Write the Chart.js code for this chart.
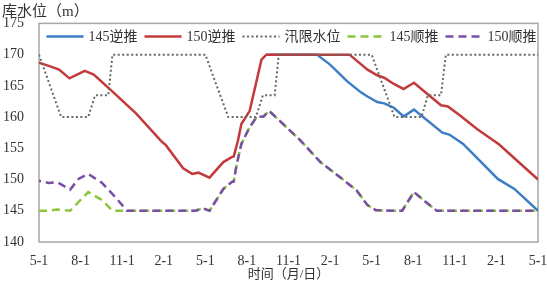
<!DOCTYPE html>
<html>
<head>
<meta charset="utf-8">
<script src="https://cdn.jsdelivr.net/npm/chart.js@4/dist/chart.umd.min.js"></script>
<style>
  body { margin: 0; background: #fff; }
  #wrap { width: 547px; height: 283px; }
</style>
</head>
<body>
<div id="wrap"><canvas id="chart" width="547" height="283"></canvas></div>
<script>
// 横轴：自首个 5-1 起的月数 (0..36)，每 3 个月一个刻度
const tickLabels = ['5-1', '8-1', '11-1', '2-1', '5-1', '8-1', '11-1', '2-1', '5-1', '8-1', '11-1', '2-1', '5-1'];

// 145逆推
const back145Months = [16.4, 20.05, 21.0, 22.2, 23.2, 23.7, 24.4, 24.9, 25.6, 26.3, 27.05, 29.1, 29.6, 30.6, 31.9, 33.1, 34.3, 36];
const back145Level  = [170, 170, 168.4, 165.8, 164.0, 163.3, 162.4, 162.2, 161.5, 160.1, 161.2, 157.5, 157.2, 155.7, 152.8, 150.1, 148.5, 145.0];

// 150逆推
const back150Months = [0, 0.7, 1.45, 2.2, 3.3, 3.95, 5.05, 7.0, 8.8, 9.15, 10.4, 11.05, 11.5, 12.3, 13.3, 13.9, 14.05, 14.35, 14.6, 15.2, 16.05, 16.4, 22.4, 23.7, 24.4, 24.9, 25.6, 26.3, 27.05, 29.0, 29.5, 30.4, 31.6, 33.2, 36];
const back150Level  = [168.7, 168.2, 167.6, 166.2, 167.4, 166.8, 164.6, 160.6, 156.2, 155.5, 151.8, 150.9, 151.1, 150.3, 152.8, 153.6, 153.7, 156.2, 158.9, 161.0, 169.2, 170, 170, 167.6, 166.7, 166.3, 165.3, 164.5, 165.5, 161.9, 161.7, 160.2, 158.1, 155.6, 150.0];

// 汛限水位
const floodMonths = [0, 1.6, 3.55, 4.05, 5.0, 5.3, 12.0, 13.65, 15.65, 16.15, 17.0, 17.3, 24.0, 25.65, 27.6, 28.05, 29.0, 29.35, 36];
const floodLevel  = [170, 160, 160, 163.5, 163.5, 170, 170, 160, 160, 163.5, 163.5, 170, 170, 160, 160, 163.5, 163.5, 170, 170];

// 145顺推
const fwd145Months = [0, 0.7, 1.3, 2.25, 3.55, 4.55, 5.3, 11.3, 11.8, 12.3, 13.3, 13.9, 14.05, 14.25, 14.6, 15.2, 15.7, 16.2, 16.6, 18.8, 20.3, 21.7, 22.9, 23.7, 24.3, 25.4, 26.2, 27.05, 27.9, 28.7, 36];
const fwd145Level  = [145, 145, 145.2, 145, 148.0, 146.7, 145, 145, 145.4, 145, 148.5, 149.6, 149.7, 152.3, 155.7, 158.4, 160.0, 160.1, 161.0, 156.4, 152.8, 150.4, 148.3, 145.9, 145.1, 145, 145, 148.0, 146.4, 145, 145];

// 150顺推
const fwd150Months = [0, 0.7, 1.3, 2.25, 2.85, 3.55, 4.55, 5.5, 6.35, 11.3, 11.8, 12.3, 13.3, 13.9, 14.05, 14.25, 14.6, 15.2, 15.7, 16.2, 16.6, 18.8, 20.3, 21.7, 22.9, 23.7, 24.3, 25.4, 26.2, 27.05, 27.9, 28.7, 36];
const fwd150Level  = [149.8, 149.45, 149.6, 148.4, 150.1, 150.9, 149.45, 147.2, 145, 145, 145.4, 145, 148.5, 149.6, 149.7, 152.3, 155.7, 158.4, 160.0, 160.1, 161.0, 156.4, 152.8, 150.4, 148.3, 145.9, 145.1, 145, 145, 148.0, 146.4, 145, 145];

const toPoints = (xs, ys) => xs.map((x, i) => ({ x: x, y: ys[i] }));

const FONT = "'Liberation Serif', 'Times New Roman', 'Noto Sans CJK SC', serif";
const TEXT = '#333333';

// 绘图区外框
const frame = {
  id: 'frame',
  beforeDatasetsDraw(chart) {
    const { ctx, chartArea: a } = chart;
    ctx.save();
    ctx.strokeStyle = '#a6a6a6';
    ctx.lineWidth = 1.5;
    ctx.strokeRect(a.left, a.top, a.right - a.left, a.bottom - a.top);
    ctx.restore();
  }
};

// 图例画在绘图区内顶部，单行
const insideLegend = {
  id: 'insideLegend',
  afterDatasetsDraw(chart) {
    const { ctx, chartArea: a } = chart;
    const sw = 37, gapText = 5, gapItem = 7;
    ctx.save();
    ctx.font = '14px ' + FONT;
    const items = chart.data.datasets.map(ds => ({ ds: ds, w: ctx.measureText(ds.label).width }));
    const total = items.reduce((s, it) => s + sw + gapText + it.w, 0) + gapItem * (items.length - 1);
    let x = (a.left + a.right) / 2 - total / 2 + 3;
    const y = a.top + 13;
    items.forEach(({ ds, w }) => {
      ctx.beginPath();
      ctx.setLineDash(ds.borderDash || []);
      ctx.strokeStyle = ds.borderColor;
      ctx.lineWidth = ds.borderWidth;
      ctx.moveTo(x, y);
      ctx.lineTo(x + sw, y);
      ctx.stroke();
      ctx.setLineDash([]);
      ctx.fillStyle = TEXT;
      ctx.textBaseline = 'middle';
      ctx.textAlign = 'left';
      ctx.fillText(ds.label, x + sw + gapText, y + 1);
      x += sw + gapText + w + gapItem;
    });
    ctx.restore();
  }
};

const ctx = document.getElementById('chart').getContext('2d');
new Chart(ctx, {
  type: 'line',
  data: {
    datasets: [
      {
        label: '145逆推',
        data: toPoints(back145Months, back145Level),
        borderColor: '#3c7dc6',
        borderWidth: 2.5,
        order: 4
      },
      {
        label: '150逆推',
        data: toPoints(back150Months, back150Level),
        borderColor: '#c4393a',
        borderWidth: 2.5,
        order: 3
      },
      {
        label: '汛限水位',
        data: toPoints(floodMonths, floodLevel),
        borderColor: '#666666',
        borderWidth: 2,
        borderDash: [2, 2.5],
        order: 0
      },
      {
        label: '145顺推',
        data: toPoints(fwd145Months, fwd145Level),
        borderColor: '#8cc63f',
        borderWidth: 2.5,
        borderDash: [8, 5],
        order: 2
      },
      {
        label: '150顺推',
        data: toPoints(fwd150Months, fwd150Level),
        borderColor: '#7a4fa6',
        borderWidth: 2.5,
        borderDash: [8, 5],
        borderDashOffset: 6,
        order: 1
      }
    ]
  },
  options: {
    responsive: false,
    animation: false,
    devicePixelRatio: 1,
    layout: { padding: { left: 2, right: 0, top: 0, bottom: 0 } },
    elements: {
      point: { radius: 0 },
      line: { tension: 0, fill: false, borderCapStyle: 'butt' }
    },
    scales: {
      x: {
        type: 'linear',
        min: 0,
        max: 36,
        grid: { display: false, drawTicks: false, tickLength: 0 },
        border: { display: false },
        afterFit: (scale) => {
          scale.height = 41;
          scale.paddingLeft = 0;
          scale.paddingRight = 9;
        },
        ticks: {
          stepSize: 3,
          autoSkip: false,
          maxRotation: 0,
          padding: 11,
          color: TEXT,
          font: { family: FONT, size: 14 },
          callback: (v) => tickLabels[Math.round(v / 3)]
        },
        title: {
          display: true,
          text: '时间（月/日）',
          color: TEXT,
          font: { family: FONT, size: 13, lineHeight: 1.1 },
          padding: { top: 0, bottom: 1 }
        }
      },
      y: {
        min: 140,
        max: 175,
        grid: { display: false, drawTicks: false, tickLength: 0 },
        border: { display: false },
        afterFit: (scale) => { scale.width = 37; },
        ticks: {
          stepSize: 5,
          padding: 15,
          color: TEXT,
          font: { family: FONT, size: 14 }
        }
      }
    },
    plugins: {
      title: {
        display: true,
        text: '库水位（m）',
        align: 'start',
        color: TEXT,
        font: { family: FONT, size: 15, weight: 'normal' },
        padding: { top: 2, bottom: 2 }
      },
      legend: { display: false },
      tooltip: { enabled: false }
    }
  },
  plugins: [frame, insideLegend]
});
</script>
</body>
</html>
